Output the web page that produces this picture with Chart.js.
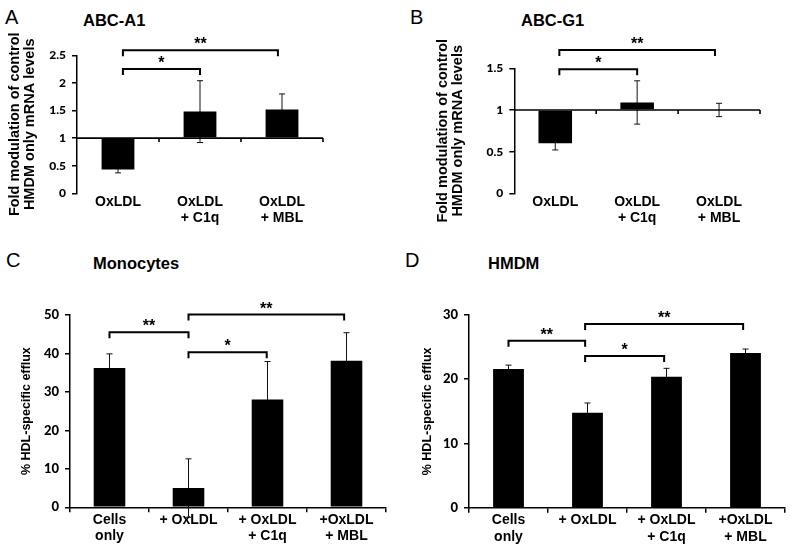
<!DOCTYPE html>
<html>
<head>
<meta charset="utf-8">
<script src="https://cdn.jsdelivr.net/npm/chart.js@4.4.1/dist/chart.umd.min.js"></script>
<style>
  body { margin: 0; background: #fff; }
  #wrap { position: relative; width: 791px; height: 549px; overflow: hidden; }
  canvas { position: absolute; }
  .lbl { position: absolute; font-family: 'Liberation Sans', Arial, sans-serif; line-height: 1; white-space: nowrap; color: #000; }
  .letter { font-size: 20px; }
  .ttl { font-size: 16.5px; font-weight: bold; }
</style>
</head>
<body>
<div id="wrap">
  <div class="lbl letter" style="left:5px; top:7px;">A</div>
  <div class="lbl ttl" style="left:83px; top:12px;">ABC-A1</div>
  <div class="lbl letter" style="left:410px; top:7px;">B</div>
  <div class="lbl ttl" style="left:521px; top:12px;">ABC-G1</div>
  <div class="lbl letter" style="left:6px; top:250px;">C</div>
  <div class="lbl ttl" style="left:93px; top:255px;">Monocytes</div>
  <div class="lbl letter" style="left:405px; top:250px;">D</div>
  <div class="lbl ttl" style="left:488px; top:255px;">HMDM</div>

  <canvas id="chartA" width="400" height="240" style="left:0; top:0;"></canvas>
  <canvas id="chartB" width="391" height="240" style="left:400px; top:0;"></canvas>
  <canvas id="chartC" width="400" height="269" style="left:0; top:280px;"></canvas>
  <canvas id="chartD" width="391" height="269" style="left:400px; top:280px;"></canvas>
</div>
<script>
// ---- data ----
const mrnaLabels = ['OxLDL', ['OxLDL', '+ C1q'], ['OxLDL', '+ MBL']];
const effluxLabels = [['Cells', 'only'], '+ OxLDL', ['+ OxLDL', '+ C1q'], ['+OxLDL', '+ MBL']];

const abcA1 = [0.43, 1.48, 1.52];
const abcA1Err = [0.06, 0.56, 0.28];
const abcG1 = [0.60, 1.09, 1.00];
const abcG1Err = [0.08, 0.26, 0.08];

const monocytes = [36.2, 5.0, 28.0, 38.1];
const monocytesErr = [3.7, 7.6, 9.9, 7.3];
const hmdm = [21.6, 14.8, 20.4, 24.1];
const hmdmErr = [0.6, 1.5, 1.3, 0.6];

const ticksA = [0, 0.5, 1, 1.5, 2, 2.5];
const ticksB = [0, 0.5, 1, 1.5];
const ticksC = [0, 10, 20, 30, 40, 50];
const ticksD = [0, 10, 20, 30];

// significance brackets: [from index, to index, height (data units), stars]
const bracketsA = [[0.06, 1.95, 2.59, '**'], [0.06, 1.0, 2.25, '*']];
const bracketsB = [[0.05, 1.95, 1.72, '**'], [0.05, 1.0, 1.49, '*']];
const bracketsC = [[0, 1, 45.5, '**'], [1, 2.97, 50.1, '**'], [1, 1.99, 40.3, '*']];
const bracketsD = [[0, 0.97, 26.0, '**'], [0.97, 2.97, 28.6, '**'], [0.97, 1.97, 23.6, '*']];

const sansBold = "'Liberation Sans', Arial, sans-serif";

// error bars go under the bars, so only the part outside a bar shows
const annotate = {
  id: 'annotate',
  beforeDatasetsDraw(chart, args, opts) {
    const xs = chart.scales.x, ys = chart.scales.y;
    const data = chart.data.datasets[0].data;
    const ctx = chart.ctx;
    ctx.save();
    ctx.lineWidth = 1;
    ctx.strokeStyle = '#111';
    opts.errors.forEach((e, i) => {
      const px = xs.getPixelForValue(i);
      const hi = ys.getPixelForValue(data[i] + e);
      const lo = ys.getPixelForValue(data[i] - e);
      ctx.beginPath();
      ctx.moveTo(px, hi); ctx.lineTo(px, lo);
      ctx.moveTo(px - 3, hi); ctx.lineTo(px + 3, hi);
      ctx.moveTo(px - 3, lo); ctx.lineTo(px + 3, lo);
      ctx.stroke();
    });
    ctx.restore();
  },
  afterDatasetsDraw(chart, args, opts) {
    const { ctx, chartArea } = chart;
    const xs = chart.scales.x, ys = chart.scales.y;
    const n = chart.data.labels.length;
    ctx.save();
    ctx.strokeStyle = '#000';
    ctx.fillStyle = '#000';

    if (opts.baseline !== undefined) {
      const by = ys.getPixelForValue(opts.baseline);
      ctx.lineWidth = 1.6;
      ctx.beginPath();
      ctx.moveTo(chartArea.left, by);
      ctx.lineTo(chartArea.right, by);
      for (let i = 1; i <= n; i++) {
        const bx = i < n ? (xs.getPixelForValue(i - 1) + xs.getPixelForValue(i)) / 2 : chartArea.right;
        ctx.moveTo(bx, by);
        ctx.lineTo(bx, by + 4);
      }
      ctx.stroke();
    }

    ctx.lineWidth = 2;
    ctx.font = 'bold 16px ' + sansBold;
    ctx.textAlign = 'center';
    ctx.textBaseline = 'alphabetic';
    opts.brackets.forEach(([a, b, h, s]) => {
      const x1 = xs.getPixelForValue(a), x2 = xs.getPixelForValue(b);
      const y = ys.getPixelForValue(h);
      ctx.beginPath();
      ctx.moveTo(x1, y + 6); ctx.lineTo(x1, y); ctx.lineTo(x2, y); ctx.lineTo(x2, y + 6);
      ctx.stroke();
      ctx.fillText(s, (x1 + x2) / 2, y - 1);
    });
    ctx.restore();
  }
};

function makeChart(id, cfg) {
  const yTitle = {
    display: true,
    text: cfg.yTitle,
    color: '#000',
    font: { family: sansBold, weight: 'bold', size: cfg.yTitleSize, lineHeight: cfg.yTitleLH },
    padding: { top: cfg.yTitlePad, bottom: 0 }
  };
  return new Chart(document.getElementById(id), {
    type: 'bar',
    data: {
      labels: cfg.labels,
      datasets: [{
        data: cfg.values,
        base: cfg.base,
        backgroundColor: '#000',
        borderWidth: 0,
        categoryPercentage: 1,
        barPercentage: cfg.barPct
      }]
    },
    options: {
      responsive: false,
      animation: false,
      devicePixelRatio: 1,
      layout: { padding: cfg.padding },
      plugins: {
        legend: { display: false },
        tooltip: { enabled: false },
        annotate: { errors: cfg.errors, brackets: cfg.brackets, baseline: cfg.baseline }
      },
      scales: {
        x: {
          grid: cfg.baseline !== undefined
            ? { display: false }
            : { display: true, drawOnChartArea: false, drawTicks: true, tickLength: 5, color: '#000', lineWidth: 1.5 },
          border: { display: cfg.baseline === undefined, color: '#000', width: 1.5 },
          ticks: {
            color: '#000',
            maxRotation: 0,
            autoSkip: false,
            padding: cfg.xPad,
            font: { family: sansBold, weight: 'bold', size: 14, lineHeight: cfg.xLH }
          },
          afterFit: s => { s.height = cfg.xHeight; }
        },
        y: {
          min: cfg.ticks[0],
          max: cfg.ticks[cfg.ticks.length - 1],
          afterBuildTicks: s => { s.ticks = cfg.ticks.map(v => ({ value: v })); },
          afterFit: s => { s.width = cfg.yWidth; },
          grid: { display: true, drawOnChartArea: false, drawTicks: true, tickLength: 5, color: '#000', lineWidth: 1.5 },
          border: { display: true, color: '#000', width: 1.5 },
          ticks: {
            color: '#000',
            padding: 6,
            callback: v => String(v),
            font: { family: "Lato, 'Open Sans', sans-serif", weight: '900', size: cfg.yTickSize }
          },
          title: yTitle
        }
      }
    },
    plugins: [annotate]
  });
}

const mrnaTitle = ['Fold modulation of control', 'HMDM only mRNA levels'];
const effluxTitle = '% HDL-specific efflux';

makeChart('chartA', {
  labels: mrnaLabels, values: abcA1, errors: abcA1Err, brackets: bracketsA, ticks: ticksA,
  base: 1, baseline: 1, barPct: 0.4, yTickSize: 12,
  padding: { top: 55.3, right: 77, bottom: 0, left: 0 }, yWidth: 77, xHeight: 46.7, xPad: -7, xLH: 1.15,
  yTitle: mrnaTitle, yTitleSize: 14.5, yTitleLH: 1.0, yTitlePad: 8
});
makeChart('chartB', {
  labels: mrnaLabels, values: abcG1, errors: abcG1Err, brackets: bracketsB, ticks: ticksB,
  base: 1, baseline: 1, barPct: 0.41, yTickSize: 12,
  padding: { top: 68.3, right: 31, bottom: 0, left: 0 }, yWidth: 114.3, xHeight: 46.7, xPad: -7, xLH: 1.15,
  yTitle: mrnaTitle, yTitleSize: 14.5, yTitleLH: 1.0, yTitlePad: 36
});
makeChart('chartC', {
  labels: effluxLabels, values: monocytes, errors: monocytesErr, brackets: bracketsC, ticks: ticksC,
  base: 0, barPct: 0.4, yTickSize: 13,
  padding: { top: 35, right: 14, bottom: 0, left: 0 }, yWidth: 70, xHeight: 41.7, xPad: -1, xLH: 1.2,
  yTitle: effluxTitle, yTitleSize: 12.5, yTitleLH: 1.2, yTitlePad: 19.5
});
makeChart('chartD', {
  labels: effluxLabels, values: hmdm, errors: hmdmErr, brackets: bracketsD, ticks: ticksD,
  base: 0, barPct: 0.39, yTickSize: 13,
  padding: { top: 35, right: 6, bottom: 0, left: 0 }, yWidth: 69, xHeight: 41.3, xPad: -1, xLH: 1.2,
  yTitle: effluxTitle, yTitleSize: 12.5, yTitleLH: 1.2, yTitlePad: 19.8
});
</script>
</body>
</html>
